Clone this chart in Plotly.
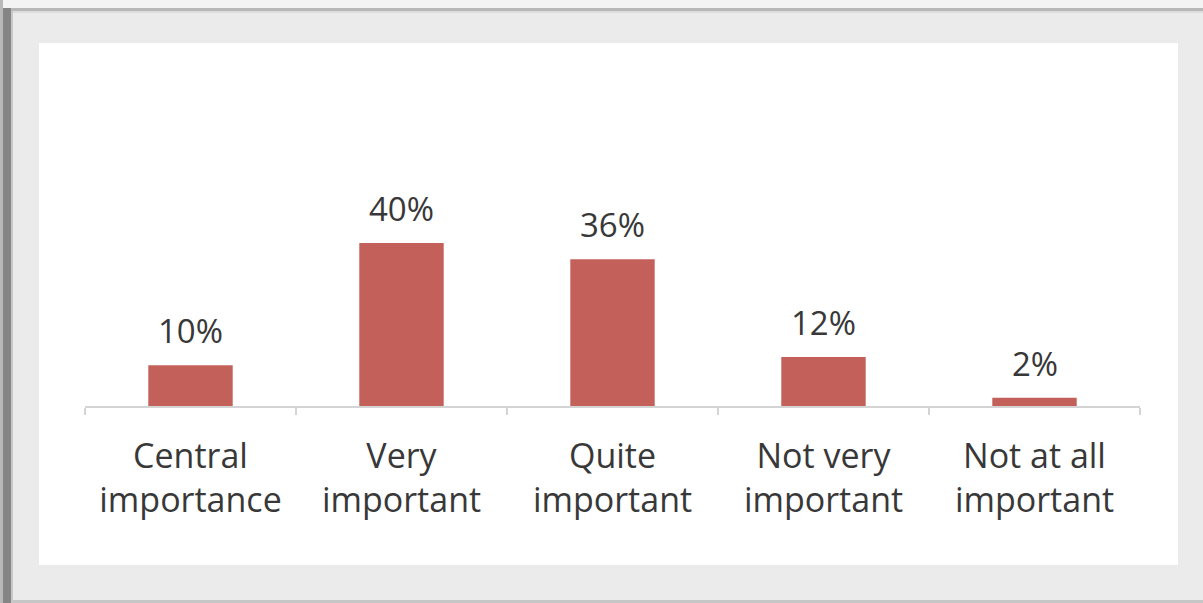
import plotly.graph_objects as go

categories = ["Central<br>importance", "Very<br>important", "Quite<br>important",
              "Not very<br>important", "Not at all<br>important"]
values = [10, 40, 36, 12, 2]
value_labels = ["10%", "40%", "36%", "12%", "2%"]

W, H = 1203, 603
L, R, T, B = 85, 63, 80, 197
PW, PH = W - L - R, H - T - B

def px(x):
    return (x - L) / PW

def py(y):
    return (H - B - y) / PH

FONT = "Open Sans"
TXT = "#383838"

fig = go.Figure()
fig.add_trace(go.Bar(
    x=categories, y=values, width=0.4,
    marker=dict(color="#c4605a", line=dict(width=0)),
    hoverinfo="skip",
))

for c, v, t in zip(categories, values, value_labels):
    fig.add_annotation(x=c, y=v, text=t, showarrow=False, yanchor="bottom",
                       yshift=10, font=dict(family=FONT, size=33, color=TXT))

def rect(x0, y0, x1, y1, color):
    return dict(type="rect", xref="paper", yref="paper", layer="below",
                x0=px(x0), x1=px(x1), y0=py(y1), y1=py(y0),
                fillcolor=color, line=dict(width=0))

shapes = [
    rect(0, 0, W, 8, "#f3f3f3"),
    rect(0, 8, W, 11, "#b8b8b8"),
    rect(0, 0, 3, H, "#b8b8b8"),
    rect(3, 8, 11, H, "#858585"),
    rect(11, 11, 13, H, "#c8c8c8"),
    rect(13, 11, W, 13, "#dcdcdc"),
    rect(13, 600, W, H, "#c6c6c6"),
    rect(39, 43, 1178, 565, "#ffffff"),
]

fig.update_layout(
    width=W, height=H,
    margin=dict(l=L, r=R, t=T, b=B, pad=0),
    paper_bgcolor="#ebebeb",
    plot_bgcolor="rgba(0,0,0,0)",
    showlegend=False,
    shapes=shapes,
    xaxis=dict(
        type="category", range=[-0.5, 4.5],
        showline=True, linecolor="#d4d4d4", linewidth=2,
        ticks="outside", tickson="boundaries", ticklen=7, tickcolor="#d4d4d4", tickwidth=2,
        tickfont=dict(family=FONT, size=34, color=TXT),
        ticklabelstandoff=19,
        showgrid=False, zeroline=False,
    ),
    yaxis=dict(range=[0, 80], visible=False, showgrid=False, zeroline=False),
)

fig.write_html("out.html", config={"displayModeBar": False},
               post_script="document.body.style.margin='0';")
